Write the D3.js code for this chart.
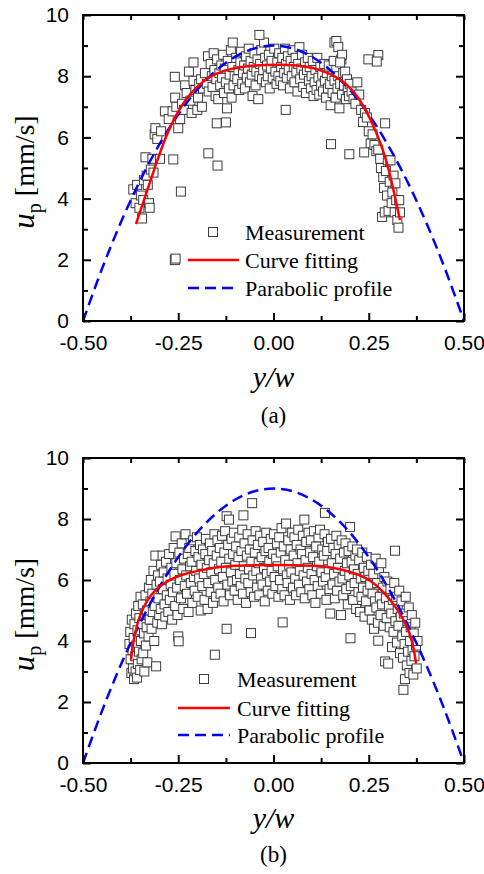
<!DOCTYPE html>
<html>
<head>
<meta charset="utf-8">
<script src="https://cdn.jsdelivr.net/npm/d3@7"></script>
<style>
body { margin: 0; background: #fff; }
svg { display: block; }
</style>
</head>
<body>
<div id="wrapper"></div>
<script>
// axis ticks
const xTicks = [-0.5, -0.25, 0, 0.25, 0.5];
const xMinor = [-0.375, -0.125, 0.125, 0.375];
const yTicks = [0, 2, 4, 6, 8, 10];
const yMinor = [1, 3, 5, 7, 9];
const legendLabels = ['Measurement', 'Curve fitting', 'Parabolic profile'];

// parabolic profile (same in both panels)
const paraX = [-0.5, -0.45, -0.4, -0.35, -0.3, -0.25, -0.2, -0.15, -0.1, -0.05, 0, 0.05, 0.1, 0.15, 0.2, 0.25, 0.3, 0.35, 0.4, 0.45, 0.5];
const paraY = [0, 1.71, 3.24, 4.59, 5.76, 6.75, 7.56, 8.19, 8.64, 8.91, 9, 8.91, 8.64, 8.19, 7.56, 6.75, 5.76, 4.59, 3.24, 1.71, 0];

// curve fitting (a)
const fitAX = [-0.361, -0.337, -0.311, -0.28, -0.256, -0.232, -0.205, -0.171, -0.13, -0.08, -0.02, 0.02, 0.06, 0.1, 0.14, 0.179, 0.205, 0.227, 0.25, 0.271, 0.287, 0.301, 0.319, 0.332];
const fitAY = [3.17, 4.06, 5.04, 6.13, 6.72, 7.22, 7.62, 7.97, 8.2, 8.32, 8.37, 8.38, 8.36, 8.29, 8.13, 7.88, 7.58, 7.22, 6.72, 6.13, 5.6, 5.04, 4.06, 3.3];

// curve fitting (b)
const fitBX = [-0.374, -0.368, -0.358, -0.346, -0.32, -0.276, -0.24, -0.2, -0.15, -0.105, 0, 0.113, 0.16, 0.192, 0.225, 0.253, 0.29, 0.328, 0.35, 0.365, 0.374];
const fitBY = [3.39, 4.0, 4.55, 5.0, 5.6, 6.0, 6.18, 6.3, 6.42, 6.47, 6.5, 6.47, 6.4, 6.3, 6.17, 6.0, 5.62, 5.0, 4.5, 4.0, 3.28];

// measurements (a)
const measA = [
[-0.368,4.3],[-0.362,3.85],[-0.358,4.45],[-0.352,3.7],[-0.348,4.1],[-0.345,3.35],[-0.342,3.95],[-0.34,4.6],
[-0.336,5.35],[-0.333,4.75],[-0.33,4.45],[-0.327,3.85],[-0.325,3.7],[-0.322,4.95],[-0.318,5.3],[-0.315,4.85],
[-0.312,6.1],[-0.31,6.3],[-0.305,5.95],[-0.298,5.3],
[-0.295,6.2],[-0.285,6.85],[-0.275,6.6],[-0.265,6.85],[-0.258,7.3],[-0.255,7.0],[-0.25,6.3],[-0.245,6.6],
[-0.24,7.1],[-0.235,6.9],[-0.232,7.7],[-0.228,7.45],[-0.222,8.15],[-0.218,7.2],[-0.215,6.8],[-0.21,7.85],
[-0.205,7.55],[-0.2,6.9],[-0.198,7.3],[-0.195,7.75],[-0.19,7.9],
[-0.188,7.0],[-0.185,7.6],[-0.18,8.1],[-0.175,7.75],[-0.172,8.65],[-0.17,7.5],[-0.165,8.4],[-0.162,8.0],
[-0.16,7.65],[-0.157,8.75],[-0.155,8.2],[-0.152,7.35],[-0.15,7.9],[-0.148,8.55],[-0.145,7.25],[-0.142,8.1],
[-0.14,7.7],[-0.137,8.35],[-0.135,7.95],[-0.132,8.7],[-0.13,7.45],[-0.128,8.25],[-0.125,7.8],[-0.122,6.95],
[-0.12,8.5],[-0.117,7.6],[-0.115,8.05],[-0.112,8.85],[-0.11,7.3],[-0.108,8.3],[-0.105,7.7],[-0.102,8.0],
[-0.098,8.6],[-0.095,7.9],[-0.092,8.2],[-0.09,7.55],[-0.087,8.45],[-0.085,8.8],[-0.082,7.75],[-0.08,8.1],
[-0.077,8.35],[-0.075,7.6],[-0.072,8.65],[-0.07,7.95],[-0.067,8.25],[-0.065,8.9],[-0.062,7.8],[-0.06,8.5],
[-0.057,8.05],[-0.055,7.35],[-0.052,8.3],[-0.05,8.75],[-0.047,7.7],[-0.045,8.15],[-0.042,8.55],[-0.04,7.25],
[-0.037,8.0],[-0.035,8.4],[-0.032,8.85],[-0.03,7.9],[-0.027,8.2],[-0.025,9.1],[-0.022,8.6],[-0.02,7.8],
[-0.017,8.35],[-0.015,8.0],[-0.012,8.7],[-0.01,7.6],[-0.007,8.25],[-0.005,8.5],[-0.002,7.95],
[0.002,8.9],[0.005,8.15],[0.008,7.75],[0.01,8.45],[0.013,8.0],[0.015,8.75],[0.018,7.85],[0.02,8.3],
[0.023,8.6],[0.025,7.7],[0.028,8.1],[0.03,8.9],[0.033,8.4],[0.035,7.95],[0.038,8.65],[0.04,8.2],
[0.043,7.6],[0.045,8.5],[0.048,8.0],[0.05,8.85],[0.053,8.3],[0.055,7.8],[0.058,8.6],[0.06,8.15],
[0.063,7.5],[0.065,8.4],[0.068,8.95],[0.07,7.9],[0.073,8.25],[0.075,8.7],[0.078,7.65],[0.08,8.05],
[0.083,8.45],[0.085,7.45],[0.088,8.2],[0.09,8.6],[0.093,7.85],[0.095,8.3],[0.098,7.6],
[0.1,8.0],[0.103,8.5],[0.105,7.35],[0.108,7.8],[0.11,8.2],[0.113,7.55],[0.115,8.6],[0.118,7.95],
[0.12,7.4],[0.123,8.3],[0.125,7.7],[0.128,8.05],[0.13,7.5],[0.133,8.4],[0.135,7.85],[0.138,7.3],
[0.14,8.1],[0.143,7.6],[0.145,8.35],[0.148,7.75],[0.15,7.05],[0.153,8.0],[0.155,7.45],[0.158,8.5],
[0.16,7.85],[0.163,7.3],[0.165,8.2],[0.168,7.6],[0.17,8.0],[0.173,6.95],[0.175,7.75],[0.178,8.55],
[0.18,7.4],[0.183,8.1],[0.185,7.7],[0.188,8.15],[0.19,7.25],[0.193,7.9],[0.195,7.55],[0.198,7.35],
[0.2,7.75],[0.205,7.5],[0.21,7.25],[0.215,7.1],[0.22,7.8],[0.225,7.4],[0.23,6.9],[0.235,6.5],
[0.24,6.8],[0.245,6.65],[0.25,6.2],[0.255,5.8],[0.26,6.1],[0.265,5.75],[0.27,5.55],
[0.275,5.6],[0.28,5.3],[0.282,5.0],[0.285,3.4],[0.288,4.7],[0.29,4.35],[0.292,3.55],[0.295,4.9],
[0.298,4.1],[0.3,5.25],[0.302,3.6],[0.305,4.55],[0.307,5.25],[0.31,3.85],[0.312,4.2],[0.315,4.75],
[0.318,3.55],[0.32,4.5],[0.322,3.95],[0.325,3.3],[0.328,3.05],[0.33,3.95],[0.332,3.55],
[0.16,9.1],[0.165,9.15],[0.17,8.95],[0.18,8.7],[0.175,8.45],[-0.037,9.35],[-0.107,9.1],
[0.249,8.55],[0.275,8.69],[0.271,8.48],[-0.263,5.28],[-0.243,4.23],[-0.259,7.98],[-0.21,8.45],
[-0.171,5.48],[-0.147,5.08],[-0.149,6.46],[-0.125,6.49],[-0.259,1.99],[-0.257,2.04],
[0.032,6.9],[0.151,5.78],[0.199,5.45],[0.238,5.51],[0.293,6.46]
];

// measurements (b)
const measB = [
[-0.378,3.9],[-0.376,4.3],[-0.375,3.4],[-0.373,2.95],[-0.372,4.7],[-0.37,3.7],[-0.369,3.1],[-0.367,4.1],
[-0.366,2.75],[-0.365,4.55],[-0.363,3.5],[-0.362,3.0],[-0.361,4.9],[-0.36,3.85],[-0.358,2.8],[-0.357,4.35],
[-0.356,3.25],[-0.355,5.15],
[-0.353,3.65],[-0.352,4.75],[-0.35,3.05],[-0.349,5.45],[-0.348,4.0],[-0.346,3.4],[-0.345,4.55],[-0.343,5.2],
[-0.342,3.6],[-0.34,4.25],[-0.339,3.0],[-0.338,4.9],[-0.336,5.5],[-0.335,3.85],[-0.333,4.45],[-0.332,5.0],
[-0.331,3.3],
[-0.328,4.15],[-0.327,5.75],[-0.325,4.7],[-0.323,5.3],[-0.322,6.0],[-0.32,4.4],[-0.318,5.55],[-0.317,4.95],
[-0.315,6.3],[-0.313,4.0],[-0.312,5.15],[-0.31,6.8],[-0.308,3.17],[-0.307,5.85],[-0.305,4.6],[-0.303,6.15],
[-0.302,5.4],[-0.3,4.85],[-0.291,6.8],
[-0.298,5.95],[-0.296,5.05],[-0.295,6.5],[-0.293,4.55],[-0.29,5.7],[-0.288,6.25],[-0.286,5.2],[-0.284,4.8],
[-0.282,6.6],[-0.28,5.5],[-0.278,6.05],[-0.276,4.95],[-0.274,6.85],[-0.272,5.35],[-0.27,5.85],[-0.268,6.4],
[-0.266,4.7],[-0.264,5.6],[-0.262,7.05],[-0.26,6.2],[-0.258,5.15],[-0.257,7.43],[-0.255,6.55],[-0.253,5.75],
[-0.252,4.85],[-0.25,4.15],[-0.249,3.99],
[-0.247,6.9],[-0.245,6.0],[-0.243,5.4],[-0.241,7.2],[-0.239,6.35],[-0.237,5.05],[-0.235,6.7],[-0.233,5.8],
[-0.231,7.5],[-0.229,6.15],[-0.227,5.55],[-0.225,6.85],[-0.223,4.95],[-0.221,7.05],[-0.219,6.45],[-0.217,5.9],
[-0.215,6.6],[-0.213,5.25],[-0.211,7.3],[-0.209,6.1],[-0.207,5.65],[-0.205,6.95],[-0.203,6.3],[-0.201,7.4],
[-0.199,5.45],[-0.197,6.75],[-0.195,6.05],[-0.193,7.15],[-0.191,5.0],[-0.189,6.5],[-0.187,5.8],[-0.185,7.0],
[-0.183,6.2],[-0.181,5.35],[-0.179,6.85],[-0.177,7.35],[-0.175,6.4],[-0.173,5.05],[-0.171,5.9],[-0.169,6.65],
[-0.167,7.2],[-0.165,5.6],[-0.163,6.25],[-0.161,6.95],[-0.159,5.25],[-0.157,6.55],[-0.155,7.5],[-0.154,3.55],
[-0.153,6.0],[-0.151,5.45],
[-0.149,6.8],[-0.147,7.3],[-0.145,5.75],[-0.143,6.35],[-0.141,7.05],[-0.139,5.55],[-0.137,6.6],[-0.135,7.45],
[-0.133,6.1],[-0.131,5.3],[-0.129,6.9],[-0.127,7.6],[-0.125,6.4],[-0.123,4.4],[-0.123,8.09],[-0.121,5.85],
[-0.119,7.15],[-0.117,7.98],[-0.116,6.7],[-0.114,5.5],[-0.112,6.25],[-0.11,7.35],[-0.108,5.95],[-0.106,6.85],
[-0.104,7.55],[-0.102,5.65],[-0.1,6.5],[-0.098,7.1],[-0.096,6.0],[-0.094,5.35],[-0.092,6.75],[-0.09,7.4],
[-0.088,6.2],[-0.086,5.8],[-0.084,6.95],[-0.082,7.65],[-0.08,5.55],[-0.079,8.12],[-0.078,6.45],[-0.076,7.2],
[-0.074,6.05],[-0.072,5.25],[-0.07,6.8],[-0.068,7.5],[-0.066,5.9],[-0.064,6.35],[-0.062,7.0],[-0.06,5.6],
[-0.059,4.26],[-0.058,6.6],[-0.056,8.52],[-0.055,7.3],[-0.053,6.15],[-0.051,5.45],
[-0.049,6.9],[-0.047,7.6],[-0.045,6.3],[-0.043,5.75],[-0.041,7.15],[-0.039,6.55],[-0.037,5.5],[-0.035,7.45],
[-0.033,6.05],[-0.031,6.75],[-0.029,5.85],[-0.027,7.25],[-0.025,6.4],[-0.023,5.3],[-0.021,6.95],[-0.019,7.55],
[-0.017,6.2],[-0.015,5.65],[-0.013,7.05],[-0.011,6.6],[-0.009,5.95],[-0.007,7.35],[-0.005,6.3],[-0.003,5.55],
[-0.001,6.85],[0.001,7.5],[0.003,6.1],[0.005,5.8],[0.007,6.7],[0.009,7.2],[0.011,6.45],[0.013,5.45],
[0.015,7.4],[0.017,6.0],[0.019,6.9],[0.021,7.7],[0.023,5.7],[0.024,4.61],[0.025,6.35],[0.027,7.1],
[0.029,5.5],[0.031,6.65],[0.033,7.85],[0.035,6.15],[0.037,5.9],[0.039,7.3],[0.041,6.5],[0.043,5.35],
[0.045,7.0],[0.047,6.25],[0.049,7.55],
[0.051,5.75],[0.053,6.8],[0.055,7.4],[0.057,6.05],[0.059,5.5],[0.061,7.15],[0.063,6.55],[0.065,7.65],
[0.067,5.85],[0.069,6.3],[0.071,7.0],[0.073,5.6],[0.075,6.85],[0.077,7.45],[0.079,6.15],[0.081,7.98],
[0.082,5.4],[0.084,6.65],[0.086,7.25],[0.088,5.95],[0.09,6.4],[0.092,7.55],[0.094,5.7],[0.096,6.9],
[0.098,7.3],[0.1,6.2],[0.102,5.5],[0.104,6.75],[0.106,7.6],[0.108,6.0],[0.11,5.25],[0.112,7.1],
[0.114,6.45],[0.116,5.8],[0.118,7.4],[0.12,6.6],[0.122,7.65],[0.124,5.55],[0.126,6.25],[0.128,7.0],
[0.13,5.95],[0.132,6.8],[0.134,7.5],[0.135,8.2],[0.137,6.1],[0.139,5.35],[0.141,6.95],[0.143,7.25],
[0.145,6.35],[0.147,5.7],[0.149,4.9],
[0.151,7.35],[0.153,6.55],[0.155,5.85],[0.157,7.05],[0.159,6.2],[0.161,5.4],[0.163,6.85],[0.165,7.45],
[0.167,5.65],[0.169,6.4],[0.171,7.15],[0.173,5.95],[0.175,6.7],[0.177,4.85],[0.179,7.3],[0.181,6.05],
[0.183,5.5],[0.185,6.9],[0.187,6.3],[0.189,7.2],[0.191,5.7],[0.193,6.55],[0.195,5.2],[0.197,6.95],
[0.199,6.15],[0.201,7.74],[0.202,4.09],[0.203,5.8],[0.205,6.6],[0.207,7.1],[0.209,5.35],[0.211,6.35],
[0.213,5.9],[0.215,6.8],[0.217,5.05],[0.219,7.0],[0.221,6.2],[0.223,5.6],[0.225,6.65],[0.227,4.95],
[0.229,6.05],[0.231,5.45],[0.233,6.9],[0.235,5.75],[0.237,6.4],[0.239,4.8],[0.241,6.1],[0.243,5.3],
[0.245,6.75],[0.247,5.65],[0.249,6.3],
[0.252,5.0],[0.254,5.85],[0.256,6.5],[0.258,4.7],[0.26,5.55],[0.262,6.2],[0.264,4.4],[0.266,5.3],
[0.268,6.7],[0.27,5.1],[0.272,5.9],[0.274,4.6],[0.275,4.01],[0.277,6.35],[0.279,5.45],[0.281,4.85],
[0.283,6.55],[0.285,5.2],[0.287,5.75],[0.289,4.5],[0.291,6.1],[0.293,3.33],[0.295,5.4],[0.297,4.75],
[0.299,5.95],[0.301,3.26],
[0.303,5.15],[0.305,4.45],[0.307,5.7],[0.309,4.9],[0.311,3.8],[0.313,5.35],[0.315,4.3],[0.317,5.9],
[0.319,6.96],[0.32,4.65],[0.322,5.45],[0.324,3.95],[0.326,5.05],[0.328,4.5],[0.33,5.65],[0.332,3.6],
[0.334,4.8],[0.336,5.3],[0.338,4.15],
[0.34,3.45],[0.341,2.4],[0.342,4.9],[0.344,3.9],[0.345,2.75],[0.347,5.45],[0.348,4.3],[0.35,3.2],
[0.352,4.65],[0.353,3.65],[0.355,5.1],[0.357,2.95],[0.358,4.0],[0.36,4.45],[0.362,3.35],[0.363,4.85],
[0.365,3.7],[0.367,2.9],[0.368,4.25],[0.37,3.5],[0.372,4.6],[0.374,3.85],[0.376,3.1],[0.378,4.0]
];

const W = 484, H = 874;
const left = 83, right = 464;
const sans = '"Liberation Sans", Arial, sans-serif';
const serif = '"Liberation Serif", "Times New Roman", serif';
const box = 9;

const svg = d3.select('#wrapper').append('svg')
    .attr('width', W).attr('height', H);

const panels = [
    { top: 15, bottom: 321, meas: measA, fitX: fitAX, fitY: fitAY, caption: '(a)',
      xLabelY: 387, capY: 423, sym: 130, l0: 105, l1: 156, tx: 162, rows: [217, 245, 273] },
    { top: 458, bottom: 763, meas: measB, fitX: fitBX, fitY: fitBY, caption: '(b)',
      xLabelY: 828, capY: 862, sym: 121, l0: 95, l1: 147, tx: 154, rows: [221, 250, 277] }
];

function fmtX(d) { return d3.format('.2f')(d).replace('\u2212', '-') }

panels.forEach(function (p) {
    let x = d3.scaleLinear().domain([-0.5, 0.5]).range([left, right]);
    let y = d3.scaleLinear().domain([0, 10]).range([p.bottom, p.top]);
    let g = svg.append('g');

    // markers
    g.append('g').selectAll('rect')
        .data(p.meas)
        .enter()
        .append('rect')
        .attr('x', function (d) { return x(d[0]) - box / 2 })
        .attr('y', function (d) { return y(d[1]) - box / 2 })
        .attr('width', box)
        .attr('height', box)
        .style('fill', '#fff')
        .style('stroke', '#3c3c3c')
        .style('stroke-width', 1);

    let line = d3.line()
        .x(function (d) { return x(d[0]) })
        .y(function (d) { return y(d[1]) });

    g.append('path')
        .datum(d3.zip(paraX, paraY))
        .attr('d', line.curve(d3.curveCatmullRom))
        .style('fill', 'none')
        .style('stroke', '#0000ff')
        .style('stroke-width', 2.5)
        .style('stroke-dasharray', '11,6');

    g.append('path')
        .datum(d3.zip(p.fitX, p.fitY))
        .attr('d', line.curve(d3.curveBasis))
        .style('fill', 'none')
        .style('stroke', '#ff0000')
        .style('stroke-width', 2.5);

    // axes, ticks pointing inward
    function styleAxis(a) {
        a.select('.domain').remove();
        a.selectAll('line').style('stroke', '#000').style('stroke-width', 2);
        a.selectAll('text').style('font-family', sans).style('font-size', '21px').style('fill', '#000');
    }
    g.append('g').attr('transform', 'translate(0,' + p.bottom + ')')
        .call(d3.axisBottom(x).tickValues(xTicks).tickSize(-8).tickPadding(14).tickFormat(fmtX))
        .call(styleAxis);
    g.append('g').attr('transform', 'translate(0,' + p.bottom + ')')
        .call(d3.axisBottom(x).tickValues(xMinor).tickSize(-5).tickFormat(''))
        .call(styleAxis);
    g.append('g').attr('transform', 'translate(0,' + p.top + ')')
        .call(d3.axisTop(x).tickValues(xTicks.concat(xMinor)).tickSize(-5).tickFormat(''))
        .call(styleAxis);
    g.append('g').attr('transform', 'translate(' + left + ',0)')
        .call(d3.axisLeft(y).tickValues(yTicks).tickSize(-8).tickPadding(14))
        .call(styleAxis);
    g.append('g').attr('transform', 'translate(' + left + ',0)')
        .call(d3.axisLeft(y).tickValues(yMinor).tickSize(-5).tickFormat(''))
        .call(styleAxis);
    g.append('g').attr('transform', 'translate(' + right + ',0)')
        .call(d3.axisRight(y).tickValues(yTicks).tickSize(-8).tickFormat(''))
        .call(styleAxis);
    g.append('g').attr('transform', 'translate(' + right + ',0)')
        .call(d3.axisRight(y).tickValues(yMinor).tickSize(-5).tickFormat(''))
        .call(styleAxis);

    g.append('rect')
        .attr('x', left).attr('y', p.top)
        .attr('width', right - left).attr('height', p.bottom - p.top)
        .style('fill', 'none').style('stroke', '#000').style('stroke-width', 2);

    // legend
    let lg = g.append('g').attr('transform', 'translate(' + left + ',' + p.top + ')');
    lg.append('rect')
        .attr('x', p.sym - box / 2).attr('y', p.rows[0] - box / 2)
        .attr('width', box).attr('height', box)
        .style('fill', '#fff').style('stroke', '#3c3c3c').style('stroke-width', 1);
    lg.append('line')
        .attr('x1', p.l0).attr('x2', p.l1).attr('y1', p.rows[1]).attr('y2', p.rows[1])
        .style('stroke', '#ff0000').style('stroke-width', 2.5);
    lg.append('line')
        .attr('x1', p.l0).attr('x2', p.l1).attr('y1', p.rows[2]).attr('y2', p.rows[2])
        .style('stroke', '#0000ff').style('stroke-width', 2.5).style('stroke-dasharray', '11,6');
    lg.selectAll('text.leg')
        .data(legendLabels)
        .enter()
        .append('text')
        .attr('class', 'leg')
        .attr('x', p.tx)
        .attr('y', function (d, i) { return p.rows[i] + 8 })
        .style('font-family', serif)
        .style('font-size', '22px')
        .text(function (d) { return d });

    // axis titles
    let yl = g.append('text')
        .attr('transform', 'translate(34,' + ((p.top + p.bottom) / 2 + 4) + ') rotate(-90)')
        .attr('text-anchor', 'middle')
        .style('font-family', serif)
        .style('font-size', '28px');
    yl.append('tspan').style('font-style', 'italic').style('font-size', '31px').text('u');
    yl.append('tspan').attr('dy', 7).style('font-size', '20px').text('p');
    yl.append('tspan').attr('dy', -7).text(' [mm/s]');

    g.append('text')
        .attr('x', (left + right) / 2)
        .attr('y', p.xLabelY)
        .attr('text-anchor', 'middle')
        .style('font-family', serif)
        .style('font-style', 'italic')
        .style('font-size', '30px')
        .text('y/w');

    g.append('text')
        .attr('x', (left + right) / 2)
        .attr('y', p.capY)
        .attr('text-anchor', 'middle')
        .style('font-family', serif)
        .style('font-size', '23px')
        .text(p.caption);
});
</script>
</body>
</html>
